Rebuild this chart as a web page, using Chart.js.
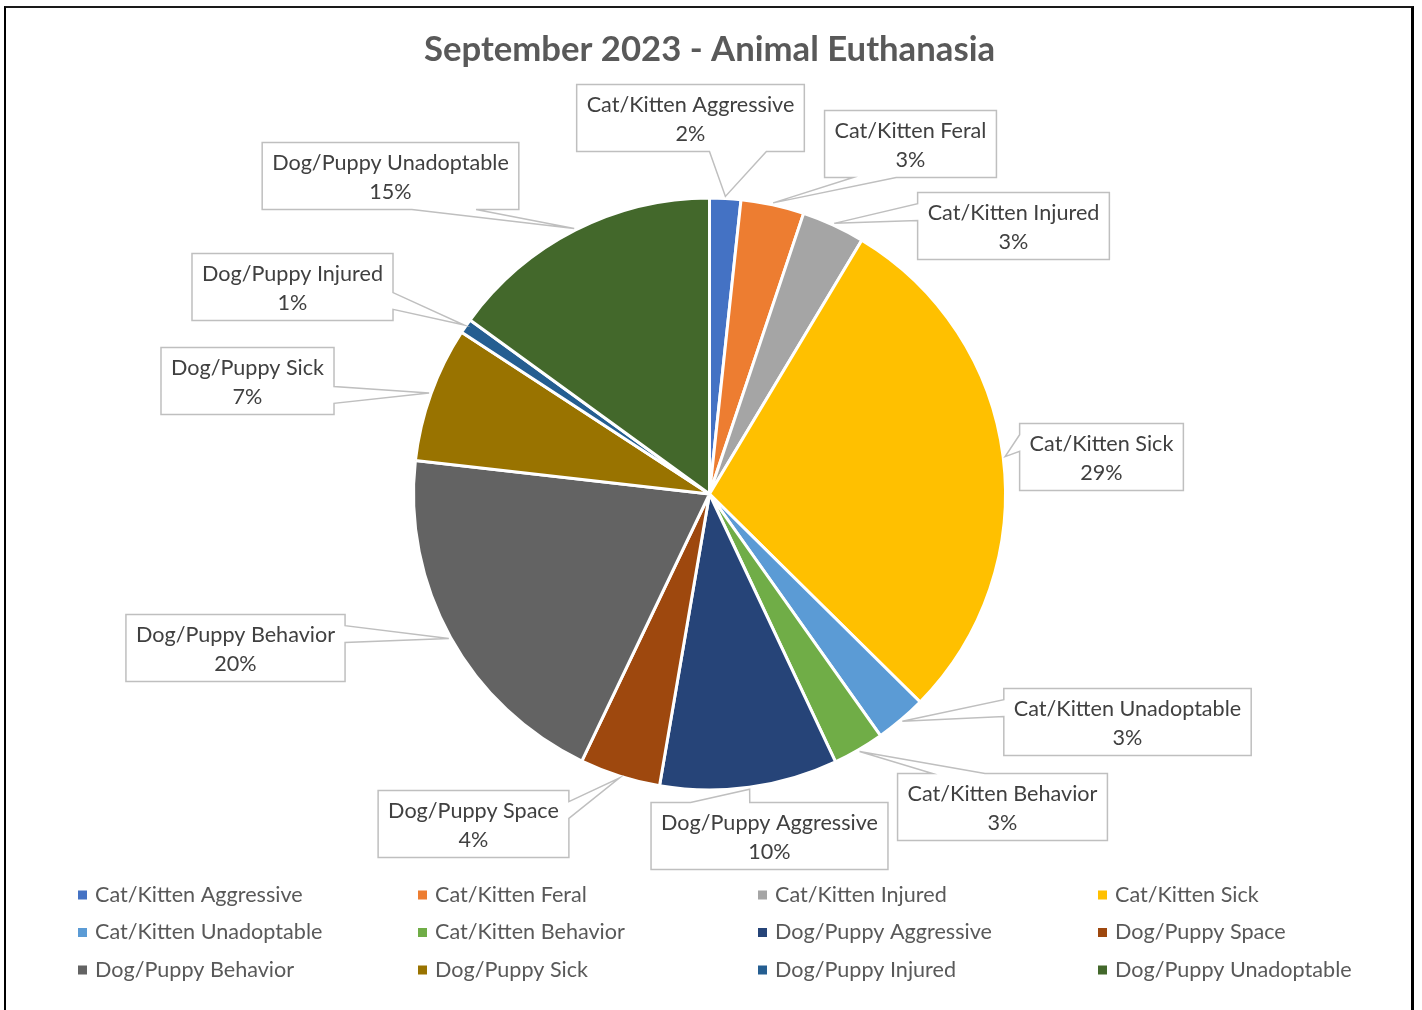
<!DOCTYPE html>
<html lang="en">
<head>
<meta charset="UTF-8">
<title>September 2023 - Animal Euthanasia</title>
<style>
  html, body { margin: 0; padding: 0; background: #fff; }
  #wrap { position: relative; width: 1422px; height: 1010px; overflow: hidden; }
  #frame {
    position: absolute; left: 4px; top: 6px; width: 1405px; height: 1100px;
    border-left: 2px solid #000; border-top: 2px solid #1a1a1a; border-right: 3px solid #000;
    pointer-events: none;
  }
</style>
</head>
<body>
<div id="wrap">
  <canvas id="chart" width="1422" height="1010"></canvas>
  <div id="frame"></div>
</div>
<script src="https://cdn.jsdelivr.net/npm/chart.js"></script>
<script>
const chartTitle = 'September 2023 - Animal Euthanasia';

const categories = [
  'Cat/Kitten Aggressive', 'Cat/Kitten Feral', 'Cat/Kitten Injured', 'Cat/Kitten Sick',
  'Cat/Kitten Unadoptable', 'Cat/Kitten Behavior', 'Dog/Puppy Aggressive', 'Dog/Puppy Space',
  'Dog/Puppy Behavior', 'Dog/Puppy Sick', 'Dog/Puppy Injured', 'Dog/Puppy Unadoptable'
];

// share of the month's total, in percent
const values = [1.7, 3.45, 3.45, 28.8, 2.8, 2.8, 9.7, 4.4, 19.7, 7.4, 0.8, 15.0];

const sliceColors = [
  '#4472C4', '#ED7D31', '#A5A5A5', '#FFC000', '#5B9BD5', '#70AD47',
  '#264478', '#9E480E', '#636363', '#997300', '#255E91', '#43682B'
];

// callout box centres, relative to the pie centre
const calloutOffsets = [
  [-19, -376], [201, -350], [304, -268], [392, -37], [418, 228], [293, 313],
  [60, 342], [-236, 330], [-474, 154], [-462, -113], [-417, -207], [-319, -318]
];

const FONT = 'Lato, "Open Sans", sans-serif';
const PIE_CENTER = { x: 709.5, y: 494 };
const PIE_RADIUS = 296;

function fitSize(text, target, weight) {
  const c = document.createElement('canvas').getContext('2d');
  c.font = weight + ' 100px ' + FONT;
  return Math.round(1000 * target / c.measureText(text).width) / 10;
}

const titleSize = fitSize(chartTitle, 571, 'bold');
const labelSize = fitSize('Cat/Kitten Aggressive', 208, 'normal');
const titlePadTop = 50 - 0.6 * titleSize;
const titleBlock = titlePadTop + 1.2 * titleSize + 10;
const padBottom = 1010 - (2 * PIE_CENTER.y - titleBlock);

const total = values.reduce((a, b) => a + b, 0);

// rectangle with a pointer, like Excel's data callout shape
function calloutPath(ctx, l, t, w, h, px, py) {
  const r = l + w, b = t + h, hc = l + w / 2, vc = t + h / 2;
  const dx = px - hc, dy = py - vc;
  const vertical = Math.abs(dy) > Math.abs(dx * h / w);
  const x1 = l + w * (dx > 0 ? 7 : 2) / 12, x2 = l + w * (dx > 0 ? 10 : 5) / 12;
  const y1 = t + h * (dy > 0 ? 7 : 2) / 12, y2 = t + h * (dy > 0 ? 10 : 5) / 12;

  ctx.beginPath();
  ctx.moveTo(l, t);
  if (vertical && dy < 0) { ctx.lineTo(x1, t); ctx.lineTo(px, py); ctx.lineTo(x2, t); }
  ctx.lineTo(r, t);
  if (!vertical && dx > 0) { ctx.lineTo(r, y1); ctx.lineTo(px, py); ctx.lineTo(r, y2); }
  ctx.lineTo(r, b);
  if (vertical && dy > 0) { ctx.lineTo(x2, b); ctx.lineTo(px, py); ctx.lineTo(x1, b); }
  ctx.lineTo(l, b);
  if (!vertical && dx <= 0) { ctx.lineTo(l, y2); ctx.lineTo(px, py); ctx.lineTo(l, y1); }
  ctx.closePath();
}

const calloutPlugin = {
  id: 'callouts',
  afterDatasetsDraw(chart) {
    const ctx = chart.ctx;
    const meta = chart.getDatasetMeta(0);
    ctx.save();
    ctx.font = labelSize + 'px ' + FONT;
    ctx.textAlign = 'center';
    ctx.textBaseline = 'middle';
    ctx.lineJoin = 'miter';
    meta.data.forEach((arc, i) => {
      const p = arc.getProps(['x', 'y', 'startAngle', 'endAngle', 'outerRadius'], true);
      const mid = (p.startAngle + p.endAngle) / 2;
      const tipX = p.x + Math.cos(mid) * (p.outerRadius + 2);
      const tipY = p.y + Math.sin(mid) * (p.outerRadius + 2);
      const pct = Math.round(values[i] / total * 100) + '%';
      const w = Math.max(ctx.measureText(categories[i]).width, ctx.measureText(pct).width) + 20;
      const h = 67;
      const cx = p.x + calloutOffsets[i][0], cy = p.y + calloutOffsets[i][1];
      calloutPath(ctx, cx - w / 2, cy - h / 2, w, h, tipX, tipY);
      ctx.fillStyle = '#fff';
      ctx.fill();
      ctx.strokeStyle = '#BFBFBF';
      ctx.lineWidth = 1.5;
      ctx.stroke();
      ctx.fillStyle = '#404040';
      ctx.fillText(categories[i], cx, cy - 13);
      ctx.fillText(pct, cx, cy + 16);
    });
    ctx.restore();
  },
  afterDraw(chart) {
    // four-column legend under the pie
    const ctx = chart.ctx;
    const rowsY = [895, 932.5, 970];
    ctx.save();
    ctx.font = labelSize + 'px ' + FONT;
    ctx.textBaseline = 'middle';
    ctx.textAlign = 'left';
    categories.forEach((name, i) => {
      const x = 78 + (i % 4) * 340;
      const y = rowsY[Math.floor(i / 4)];
      ctx.fillStyle = sliceColors[i];
      ctx.fillRect(x, y - 4.5, 9, 9);
      ctx.fillStyle = '#595959';
      ctx.fillText(name, x + 17, y);
    });
    ctx.restore();
  }
};

new Chart(document.getElementById('chart'), {
  type: 'pie',
  data: {
    labels: categories,
    datasets: [{
      data: values,
      backgroundColor: sliceColors,
      borderColor: '#fff',
      borderWidth: 3
    }]
  },
  options: {
    responsive: false,
    animation: false,
    radius: PIE_RADIUS,
    layout: { padding: { left: 0, right: 3, top: 0, bottom: padBottom } },
    plugins: {
      legend: { display: false },
      tooltip: { enabled: false },
      title: {
        display: true,
        text: chartTitle,
        color: '#595959',
        font: { family: FONT, size: titleSize, weight: 'bold' },
        padding: { top: titlePadTop, bottom: 10 }
      }
    }
  },
  plugins: [calloutPlugin]
});
</script>
</body>
</html>
